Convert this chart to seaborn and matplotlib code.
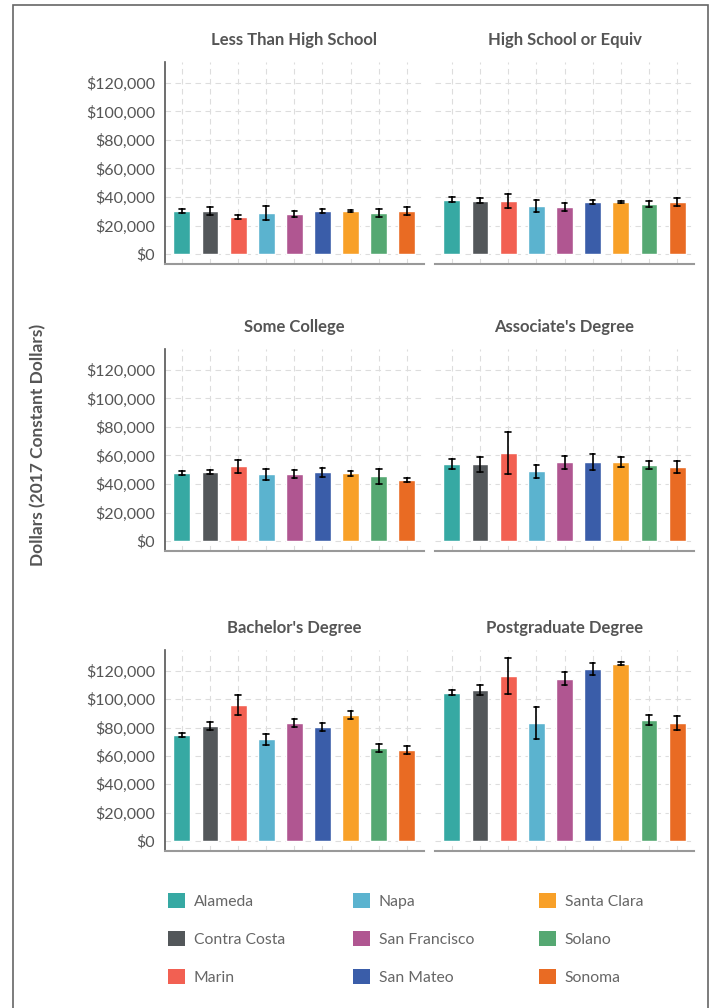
import pandas as pd
import matplotlib.pyplot as plt
import seaborn as sns
from matplotlib.patches import Patch, Rectangle
from matplotlib.ticker import FuncFormatter

# ===============================
# Dados
# ===============================
counties = ["Alameda", "Contra Costa", "Marin", "Napa", "San Francisco",
            "San Mateo", "Santa Clara", "Solano", "Sonoma"]
county_colors = ["#36A9A3", "#53575A", "#F26052", "#5BB3CF", "#B05691",
                 "#3A5DA9", "#F8A028", "#55A872", "#E96B23"]

levels = ["Less Than High School", "High School or Equiv", "Some College",
          "Associate's Degree", "Bachelor's Degree", "Postgraduate Degree"]

less_hs_mean = [30200, 30200, 26000, 28800, 28100, 30200, 30200, 28800, 30200]
less_hs_err = [1400, 2600, 1400, 5000, 1800, 1400, 800, 2700, 3000]
hs_mean = [37900, 37200, 37200, 33700, 33000, 36500, 36500, 35100, 36500]
hs_err = [1750, 1750, 5100, 4200, 2600, 1600, 600, 2300, 2700]
some_col_mean = [47500, 48200, 52500, 46800, 46800, 48200, 47500, 45400, 42600]
some_col_err = [1500, 1500, 4600, 3900, 2900, 3100, 1900, 5200, 1300]
assoc_mean = [53900, 53900, 61600, 48900, 55300, 55300, 55300, 53200, 51800]
assoc_err = [3600, 5200, 14700, 4700, 4600, 5500, 3500, 3000, 4200]
bach_mean = [74800, 81100, 96000, 71900, 83300, 80400, 88900, 65600, 64200]
bach_err = [1650, 3100, 7300, 3900, 2900, 2900, 2500, 2800, 2600]
post_mean = [104500, 106600, 116500, 83300, 114400, 121500, 125000, 85400, 83300]
post_err = [1800, 3700, 12600, 11000, 4500, 4200, 1100, 3500, 4950]

all_means = [less_hs_mean, hs_mean, some_col_mean, assoc_mean, bach_mean, post_mean]
all_errs = [less_hs_err, hs_err, some_col_err, assoc_err, bach_err, post_err]

# Duas linhas por barra (media - erro, media + erro): a media e o valor,
# e o intervalo de percentil 0-100 vira a barra de erro
rows = []
for lvl, means, errs in zip(levels, all_means, all_errs):
    for c, m, e in zip(counties, means, errs):
        rows.append({"level": lvl, "county": c, "value": m - e})
        rows.append({"level": lvl, "county": c, "value": m + e})
df = pd.DataFrame(rows)

# ===============================
# Estilo
# ===============================
sns.set_style("white")
plt.rcParams['font.family'] = ['Lato', 'DejaVu Sans']
TXT = "#555555"
palette = dict(zip(counties, county_colors))

W, H = 711, 1008
fig = plt.figure(figsize=(W / 100, H / 100), dpi=100)

col_x = [(165, 423.7), (435, 694)]
row_y = [(62, 264), (349, 551), (650, 851)]

fmt = FuncFormatter(lambda v, p: f"${v:,.0f}")

for i, lvl in enumerate(levels):
    r, c = divmod(i, 2)
    x0, x1 = col_x[c]
    y0, y1 = row_y[r]
    ax = fig.add_axes([x0 / W, 1 - y1 / H, (x1 - x0) / W, (y1 - y0) / H])
    sub = df[df["level"] == lvl]
    sns.barplot(data=sub, x="county", y="value", hue="county",
                order=counties, hue_order=counties, palette=palette,
                estimator="mean", errorbar=("pi", 100), capsize=0.2,
                err_kws={"color": "black", "linewidth": 1.2},
                width=0.6, saturation=1, legend=False, ax=ax)
    ax.set_xlim(-0.6, 8.6)
    ax.set_ylim(-7000, 134700)
    ax.set_yticks(range(0, 120001, 20000))
    ax.yaxis.set_major_formatter(fmt)
    ax.set_xticks(range(len(counties)))
    ax.set_xticklabels([])
    ax.set_xlabel("")
    ax.set_ylabel("")
    ax.grid(True, axis="both", linestyle=(0, (5, 4)), color="#dddddd", linewidth=0.8)
    ax.set_axisbelow(True)
    for s in ["top", "right"]:
        ax.spines[s].set_visible(False)
    ax.spines["bottom"].set_color("#999999")
    ax.spines["bottom"].set_linewidth(1.5)
    ax.tick_params(axis="x", length=5, width=1, color="#999999")
    if c == 0:
        ax.spines["left"].set_color("#555555")
        ax.spines["left"].set_linewidth(1.2)
        ax.tick_params(axis="y", length=4, width=1, color="#555555",
                       labelsize=11.5, labelcolor=TXT, pad=3)
    else:
        ax.spines["left"].set_visible(False)
        ax.tick_params(axis="y", left=False, labelleft=False)
    ax.set_title(lvl, fontsize=12, fontweight="bold", color=TXT, pad=12)

fig.text(38 / W, 1 - 445 / H, "Dollars (2017 Constant Dollars)", rotation=90,
         ha="center", va="center", fontsize=12.5, fontweight="bold", color=TXT)

# Legenda em tres colunas
leg_x = [168, 353, 539]
for k in range(3):
    handles = [Patch(facecolor=palette[n], edgecolor="none") for n in counties[3 * k:3 * k + 3]]
    leg = fig.legend(handles, counties[3 * k:3 * k + 3], loc="upper left",
                     bbox_to_anchor=(leg_x[k] / W, 1 - 893 / H), frameon=False,
                     fontsize=11.3, labelcolor="#666666", handlelength=1.1,
                     handleheight=1.1, handletextpad=0.55, labelspacing=1.42,
                     borderpad=0, borderaxespad=0)

fig.patches.append(Rectangle((12.5 / W, -0.01), (707.5 - 12.5) / W, 1.01 - 5 / H,
                             transform=fig.transFigure, fill=False,
                             edgecolor="#666666", linewidth=1.2))

plt.savefig("out.png", dpi=100)
